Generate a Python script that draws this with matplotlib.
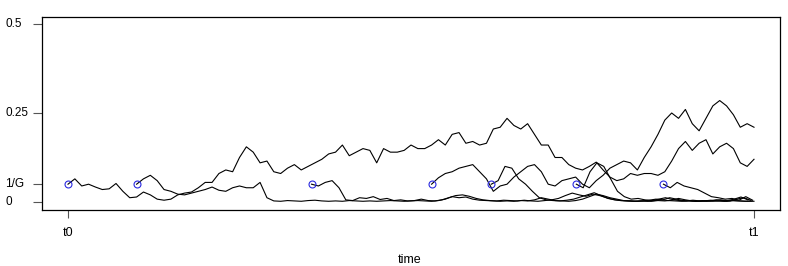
import matplotlib
matplotlib.use("Agg")
import matplotlib.pyplot as plt
import matplotlib.transforms as mtransforms
import numpy as np

plt.rcParams['font.family'] = ['Liberation Sans', 'DejaVu Sans']

G = 20
step = 0.01

# start times of each path (circle positions)
starts = [0.0, 0.1, 0.355, 0.53, 0.617, 0.741, 0.868]

path_a = [0.05, 0.065, 0.045, 0.05, 0.042, 0.035, 0.037, 0.052, 0.03, 0.012,
          0.014, 0.028, 0.02, 0.008, 0.005, 0.008, 0.02, 0.025, 0.028, 0.04,
          0.055, 0.055, 0.08, 0.09, 0.085, 0.125, 0.155, 0.14, 0.11, 0.115,
          0.085, 0.08, 0.095, 0.105, 0.09, 0.1, 0.11, 0.12, 0.135, 0.14,
          0.16, 0.13, 0.14, 0.15, 0.145, 0.11, 0.15, 0.14, 0.14, 0.145,
          0.16, 0.15, 0.15, 0.16, 0.175, 0.16, 0.19, 0.195, 0.165, 0.17,
          0.16, 0.165, 0.205, 0.21, 0.235, 0.215, 0.205, 0.22, 0.19, 0.16,
          0.16, 0.125, 0.125, 0.105, 0.095, 0.09, 0.1, 0.112, 0.09, 0.07,
          0.06, 0.065, 0.08, 0.075, 0.08, 0.08, 0.075, 0.085, 0.115, 0.15,
          0.17, 0.145, 0.165, 0.175, 0.135, 0.155, 0.165, 0.15, 0.11, 0.1, 0.12]

path_b = [0.05, 0.065, 0.075, 0.06, 0.035, 0.03, 0.022, 0.02, 0.025, 0.03,
          0.035, 0.042, 0.033, 0.03, 0.04, 0.045, 0.04, 0.04, 0.055, 0.012,
          0.003, 0.002, 0.004, 0.003, 0.002, 0.004, 0.005, 0.003, 0.002, 0.003,
          0.002, 0.004, 0.003, 0.002, 0.003, 0.002, 0.003, 0.004, 0.003, 0.002,
          0.003, 0.004, 0.003, 0.002, 0.004, 0.008, 0.015, 0.012, 0.014, 0.008,
          0.005, 0.004, 0.003, 0.002, 0.003, 0.002, 0.004, 0.003, 0.006, 0.012,
          0.008, 0.004, 0.003, 0.002, 0.004, 0.008, 0.015, 0.022, 0.018, 0.012,
          0.008, 0.004, 0.003, 0.002, 0.003, 0.002, 0.004, 0.003, 0.005, 0.01,
          0.006, 0.003, 0.002, 0.003, 0.002, 0.003, 0.002, 0.004, 0.003, 0.002, 0.002]

path_c = [0.05, 0.045, 0.055, 0.06, 0.04, 0.006, 0.004, 0.012, 0.01, 0.015,
          0.007, 0.01, 0.004, 0.006, 0.003, 0.004, 0.008, 0.004, 0.003, 0.006,
          0.012, 0.018, 0.02, 0.016, 0.01, 0.006, 0.004, 0.003, 0.005, 0.004,
          0.003, 0.005, 0.003, 0.002, 0.004, 0.006, 0.01, 0.018, 0.025, 0.02,
          0.016, 0.022, 0.018, 0.012, 0.007, 0.004, 0.003, 0.002, 0.003, 0.002,
          0.004, 0.006, 0.004, 0.003, 0.002, 0.003, 0.002, 0.004, 0.003, 0.006,
          0.004, 0.003, 0.008, 0.012, 0.005]

path_d = [0.05, 0.068, 0.08, 0.085, 0.095, 0.1, 0.105, 0.085, 0.065, 0.03,
          0.045, 0.05, 0.07, 0.085, 0.1, 0.105, 0.085, 0.05, 0.045, 0.06,
          0.065, 0.07, 0.05, 0.04, 0.06, 0.075, 0.095, 0.105, 0.115, 0.11,
          0.09, 0.125, 0.155, 0.19, 0.23, 0.25, 0.235, 0.26, 0.22, 0.2,
          0.235, 0.27, 0.285, 0.27, 0.245, 0.21, 0.22, 0.21]

path_e = [0.05, 0.06, 0.1, 0.095, 0.065, 0.05, 0.03, 0.012, 0.006, 0.004,
          0.003, 0.005, 0.008, 0.014, 0.02, 0.026, 0.018, 0.01, 0.006, 0.004,
          0.003, 0.002, 0.003, 0.005, 0.008, 0.006, 0.012, 0.008, 0.004, 0.003,
          0.002, 0.003, 0.005, 0.003, 0.002, 0.004, 0.003, 0.002, 0.003]

path_f = [0.05, 0.04, 0.085, 0.11, 0.1, 0.065, 0.03, 0.015, 0.008, 0.01,
          0.006, 0.004, 0.008, 0.012, 0.007, 0.004, 0.003, 0.005, 0.003, 0.002,
          0.004, 0.006, 0.004, 0.008, 0.014, 0.006]

path_g = [0.05, 0.04, 0.055, 0.045, 0.04, 0.035, 0.025, 0.015, 0.012, 0.008,
          0.01, 0.005, 0.015, 0.005]

paths = [path_a, path_b, path_c, path_d, path_e, path_f, path_g]

fig = plt.figure(figsize=(7.88, 2.66), dpi=100)
ax = fig.add_axes([42 / 788, 56 / 266, 738 / 788, 193 / 266])

for t_start, vals in zip(starts, paths):
    t = t_start + step * np.arange(len(vals))
    ax.plot(t, vals, color='black', linewidth=0.8)

ax.plot(starts, [1 / G] * len(starts), linestyle='none', marker='o',
        markersize=5, markerfacecolor='none', markeredgecolor='#2a2ae0',
        markeredgewidth=0.8)

ax.set_xlim(-0.0379, 1.0379)
ax.set_ylim(-0.0225, 0.5197)

ax.set_xticks([0, 1])
ax.set_xticklabels(['t0', 't1'], fontsize=9)
ax.set_yticks([0, 1 / G, 0.25, 0.5])
ax.set_yticklabels([])
ax.tick_params(axis='x', length=6, width=0.8, pad=6, color='#555555')
ax.tick_params(axis='y', length=6.5, width=0.8, color='#555555')

trans = mtransforms.blended_transform_factory(fig.transFigure, ax.transData)
for val, lab in zip([0, 1 / G, 0.25, 0.5], ['0', '1/G', '0.25', '0.5']):
    ax.text(5 / 788, val, lab, transform=trans, ha='left', va='center', fontsize=8.5)

for sp in ax.spines.values():
    sp.set_linewidth(0.9)
    sp.set_color('black')

fig.text(410 / 788, 1 - 260 / 266, 'time', ha='center', va='center', fontsize=9)

fig.savefig('out.png', dpi=100)
